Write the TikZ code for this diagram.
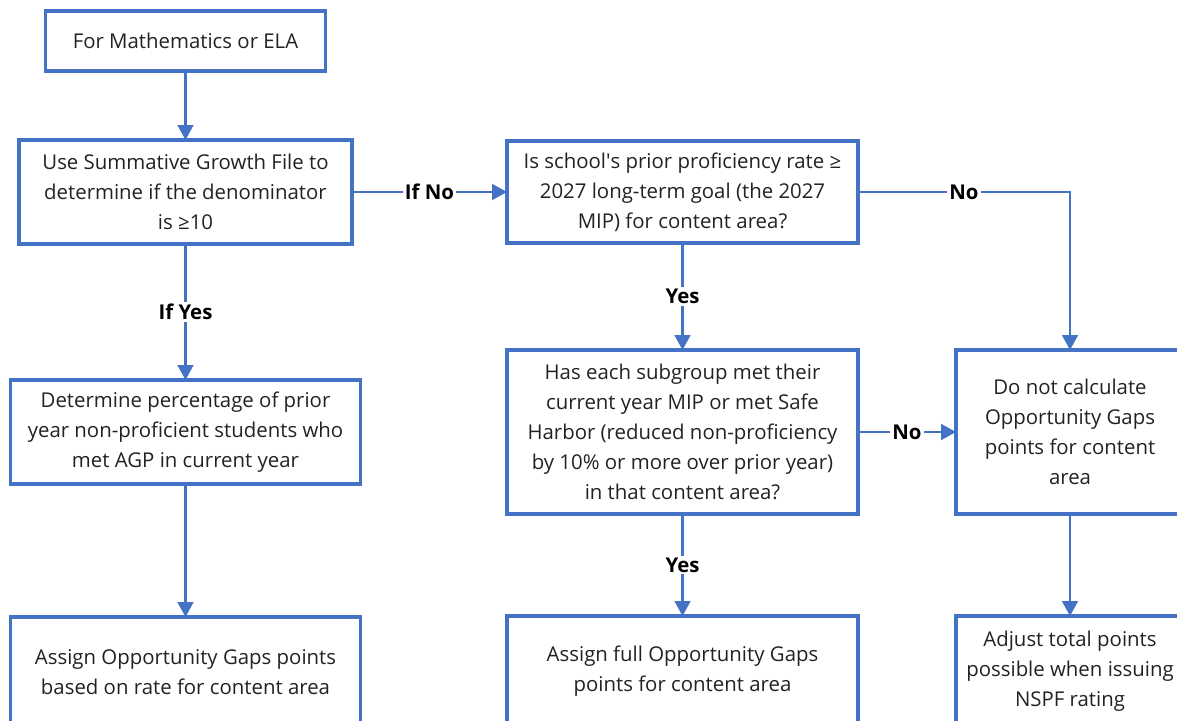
\documentclass[tikz,border=0pt]{standalone}
\usepackage{fontspec}
\setmainfont{Open Sans}
\usepackage{tikz}
\usetikzlibrary{arrows.meta,positioning}
\usepackage{xcolor}
\definecolor{ogblue}{HTML}{4472C4}
\definecolor{ogtext}{HTML}{222222}
\newcommand{\straightq}{\XeTeXglyph\XeTeXcharglyph"0027\relax}

\begin{document}
\begin{tikzpicture}[every node/.style={font=\fontsize{14.5pt}{21.3pt}\selectfont, text=ogtext}]
\tikzset{box/.style={draw=ogblue, line width=2.2pt, align=center, inner sep=0pt, outer sep=0pt, minimum height=2.6cm}}
\tikzset{arrow/.style={-{Triangle[length=3.7mm, width=3.9mm]}, draw=ogblue, line width=1.6pt}}
\tikzset{lbl/.style={fill=white, inner sep=1.5pt, font=\fontsize{14.5pt}{17pt}\selectfont\bfseries, text=black}}
\path[use as bounding box, clip] (0,0) rectangle (29.425,-18.025);
% left column
\node[box, minimum width=7cm, minimum height=1.5cm] (math) at (4.6375,-1.025) {For Mathematics or ELA};
\node[box, minimum width=8.325cm, below=1.725cm of math] (denom) {Use Summative Growth File to\\determine if the denominator\\is ≥10};
\node[box, minimum width=8.75cm, below=3.4cm of denom] (percent) {Determine percentage of prior\\year non-proficient students who\\met AGP in current year};
\node[box, minimum width=8.75cm, minimum height=2.75cm, below=3.325cm of percent] (assignrate) {Assign Opportunity Gaps points\\based on rate for content area};
% middle column
\node[box, minimum width=8.775cm, minimum height=2.55cm, right=3.875cm of denom] (prior) {Is school\straightq s prior proficiency rate ≥\\2027 long-term goal (the 2027\\MIP) for content area?};
\node[box, minimum width=8.775cm, minimum height=4.1cm, below=2.675cm of prior] (subgroup) {Has each subgroup met their\\current year MIP or met Safe\\Harbor (reduced non-proficiency\\by 10\% or more over prior year)\\in that content area?};
\node[box, minimum width=8.775cm, minimum height=2.75cm, below=2.55cm of subgroup] (assignfull) {Assign full Opportunity Gaps\\points for content area};
% right column
\node[box, minimum width=5.7cm, minimum height=4.1cm, right=2.45cm of subgroup] (nocalc) {Do not calculate\\Opportunity Gaps\\points for content\\area};
\node[box, minimum width=5.7cm, minimum height=2.75cm, below=2.55cm of nocalc] (adjust) {Adjust total points\\possible when issuing\\NSPF rating};
% connectors
\draw[arrow] (math) -- (denom);
\draw[arrow] (denom) -- node[lbl] {If Yes} (percent);
\draw[arrow] (percent) -- (assignrate);
\draw[arrow] (denom) -- node[lbl] {If No} (prior);
\draw[arrow] (prior) -- node[lbl] {Yes} (subgroup);
\draw[arrow] (subgroup) -- node[lbl] {Yes} (assignfull);
\draw[arrow] (prior.east) -| node[lbl, pos=0.25] {No} (nocalc.north);
\draw[arrow] (subgroup) -- node[lbl] {No} (nocalc);
\draw[arrow] (nocalc) -- (adjust);
\end{tikzpicture}
\end{document}
